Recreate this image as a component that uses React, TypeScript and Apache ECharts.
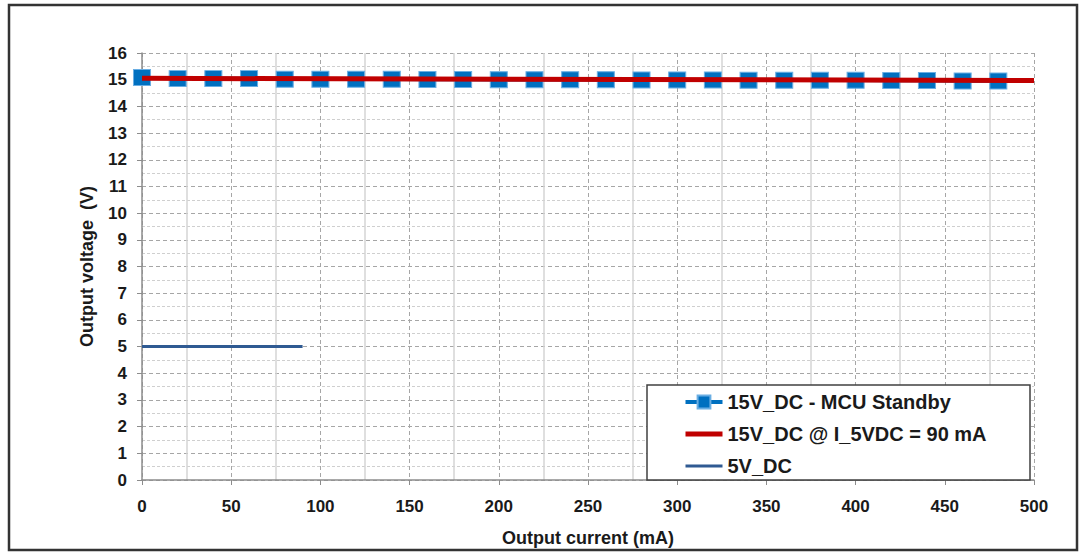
import React, { useEffect, useRef } from "react";
import * as echarts from "echarts";

const xTicks = [0, 50, 100, 150, 200, 250, 300, 350, 400, 450, 500];
const standbyX = [0, 20, 40, 60, 80, 100, 120, 140, 160, 180, 200, 220, 240, 260, 280, 300, 320, 340, 360, 380, 400, 420, 440, 460, 480];
const standbyY = [15.08, 15.04, 15.04, 15.04, 15.02, 15.02, 15.02, 15.02, 15.01, 15.01, 15.0, 15.0, 15.0, 15.0, 14.99, 14.99, 14.99, 14.98, 14.98, 14.98, 14.98, 14.97, 14.97, 14.95, 14.95];
const loadX = [0, 500];
const loadY = [15.05, 14.97];
const v5X = [0, 90];
const v5Y = [5.0, 5.0];
const seriesNames = ["15V_DC - MCU Standby", "15V_DC @ I_5VDC = 90 mA", "5V_DC"];

const FONT = "Liberation Sans";

export default function App() {
  const ref = useRef<HTMLDivElement>(null);
  useEffect(() => {
    if (!ref.current) return;
    const chart = echarts.init(ref.current, null, { renderer: "svg" });
    const zip = (xs: number[], ys: number[]) => xs.map((x, i) => [x, ys[i]]);
    chart.setOption({
      animation: false,
      backgroundColor: "#ffffff",
      grid: { left: 142, right: 45, top: 53, bottom: 71, containLabel: false },
      xAxis: {
        type: "value",
        min: 0,
        max: 500,
        interval: 50,
        name: "Output current (mA)",
        nameLocation: "middle",
        nameGap: 49,
        nameTextStyle: { fontFamily: FONT, fontWeight: "bold", fontSize: 18, color: "#1a1a1a" },
        axisLine: { show: true, lineStyle: { color: "#8c8c8c", width: 1.5 } },
        axisTick: { show: true, length: 5, lineStyle: { color: "#8c8c8c" } },
        axisLabel: { margin: 18, fontFamily: FONT, fontWeight: "bold", fontSize: 17, color: "#1a1a1a" },
        splitLine: { show: true, lineStyle: { color: "#a6a6a6", type: [4, 3], width: 1 } },
        minorTick: { show: false, splitNumber: 2 },
        minorSplitLine: { show: true, lineStyle: { color: "#d4d4d4", type: "solid", width: 1.5 } },
      },
      yAxis: {
        type: "value",
        min: 0,
        max: 16,
        interval: 1,
        name: "Output voltage  (V)",
        nameLocation: "middle",
        nameGap: 46,
        nameTextStyle: { fontFamily: FONT, fontWeight: "bold", fontSize: 18, color: "#1a1a1a" },
        axisLine: { show: true, lineStyle: { color: "#8c8c8c", width: 1.5 } },
        axisTick: { show: true, length: 5, lineStyle: { color: "#8c8c8c" } },
        axisLabel: { margin: 15, fontFamily: FONT, fontWeight: "bold", fontSize: 17, color: "#1a1a1a" },
        splitLine: { show: true, lineStyle: { color: "#a6a6a6", type: [4, 3], width: 1 } },
        minorTick: { show: false, splitNumber: 2 },
        minorSplitLine: { show: true, lineStyle: { color: "#cfcfcf", type: [3, 2], width: 1 } },
      },
      legend: {
        orient: "vertical",
        left: 683,
        top: 392,
        padding: 0,
        itemWidth: 37,
        itemHeight: 16,
        itemGap: 12,
        z: 6,
        data: [
          { name: seriesNames[0], lineStyle: { width: 4 } },
          { name: seriesNames[1], lineStyle: { width: 5 } },
          { name: seriesNames[2], lineStyle: { width: 3 } },
        ],
        textStyle: { fontFamily: FONT, fontWeight: "bold", fontSize: 20, color: "#1a1a1a", lineHeight: 18 },
      },
      graphic: [
        {
          type: "rect",
          z: 5,
          shape: { x: 647, y: 385, width: 383, height: 95 },
          style: { fill: "#ffffff", stroke: "#404040", lineWidth: 1.5 },
        },
        {
          type: "rect",
          z: 10,
          shape: { x: 9, y: 5, width: 1068, height: 545 },
          style: { fill: "none", stroke: "#333333", lineWidth: 2.5 },
        },
      ],
      series: [
        {
          name: seriesNames[0],
          type: "line",
          data: zip(standbyX, standbyY),
          symbol: "rect",
          symbolSize: [17, 16],
          lineStyle: { color: "#0070C0", width: 3.5 },
          itemStyle: { color: "#0070C0", borderColor: "#6aaee3", borderWidth: 1 },
          z: 2,
        },
        {
          name: seriesNames[1],
          type: "line",
          data: zip(loadX, loadY),
          symbol: "none",
          lineStyle: { color: "#C00000", width: 5 },
          itemStyle: { color: "#C00000", opacity: 0 },
          z: 3,
        },
        {
          name: seriesNames[2],
          type: "line",
          data: zip(v5X, v5Y),
          symbol: "none",
          lineStyle: { color: "#2F5A92", width: 3 },
          itemStyle: { color: "#2F5A92", opacity: 0 },
          z: 3,
        },
      ],
    });
    return () => chart.dispose();
  }, []);
  return (
    <div
      ref={ref}
      style={{ position: "absolute", left: 0, top: 0, width: 1079, height: 552, background: "#ffffff" }}
    />
  );
}
